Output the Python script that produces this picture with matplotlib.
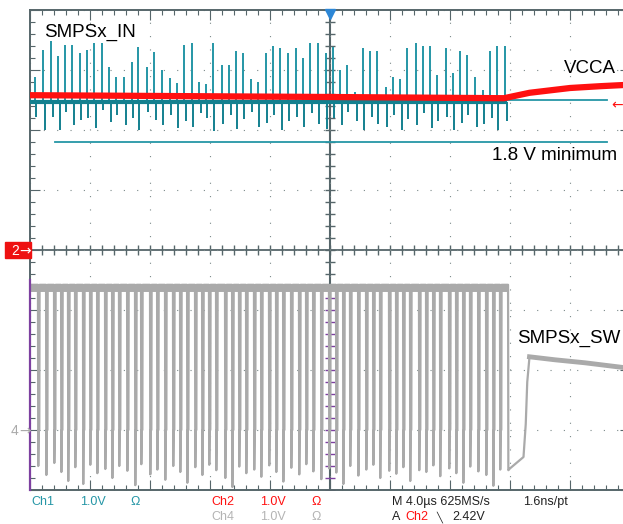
import numpy as np
import matplotlib
matplotlib.use('Agg')
import matplotlib.pyplot as plt
from matplotlib.patches import Rectangle

plt.rcParams['font.family'] = ['Liberation Sans', 'DejaVu Sans']

# screen: 10 div x 4 us, 8 div x 1 V ; ch1/ch2 ground at centre, ch4 ground 3 div below
time_per_div = 4.0
ch4_offset = -3.0

# switching events (us) seen as spikes on SMPSx_IN
spike_t = [-19.67, -19.13, -18.60, -18.13, -17.67, -17.20, -16.67, -16.20, -15.73, -15.20,
           -14.73, -14.27, -13.73, -13.20, -12.80, -12.20, -11.73, -11.20, -10.67, -10.20,
           -9.73, -9.20, -8.73, -8.27, -7.80, -7.20, -6.73, -6.27, -5.80, -5.27,
           -4.80, -4.27, -3.80, -3.33, -2.80, -2.27, -1.80, -1.33, -0.80, -0.27,
           0.20, 0.67, 1.13, 1.67, 2.20, 2.67, 3.13, 3.73, 4.20, 4.67,
           5.13, 5.73, 6.20, 6.67, 7.13, 7.73, 8.20, 8.67, 9.13, 9.67,
           10.20, 10.67, 11.13, 11.67]
spike_hi = [2.88, 3.33, 3.48, 3.23, 3.42, 3.42, 3.28, 3.33, 3.45, 3.45,
            3.05, 2.88, 2.88, 3.13, 3.38, 3.05, 3.30, 3.00, 2.87, 2.78,
            3.42, 3.45, 2.80, 2.77, 3.45, 3.08, 3.08, 3.32, 3.28, 2.85,
            2.80, 3.28, 3.40, 3.37, 3.28, 3.37, 3.20, 3.45, 3.45, 3.28,
            3.38, 3.00, 3.08, 2.63, 3.37, 3.32, 3.32, 2.72, 2.88, 2.85,
            3.37, 3.45, 3.40, 3.40, 2.92, 3.37, 2.95, 3.32, 3.25, 2.88,
            2.67, 3.32, 3.40, 3.40]
spike_lo = [2.22, 2.00, 2.22, 2.00, 2.30, 2.08, 2.17, 2.20, 2.03, 2.33,
            2.13, 2.25, 2.08, 2.20, 2.00, 2.30, 2.17, 2.08, 2.25, 2.03,
            2.15, 2.05, 2.28, 2.20, 1.98, 2.10, 2.25, 2.02, 2.18, 2.30,
            2.05, 2.12, 2.25, 2.00, 2.15, 2.22, 2.05, 2.28, 2.10, 2.02,
            2.20, 2.08, 2.30, 2.15, 2.00, 2.22, 2.10, 2.05, 2.25, 2.00,
            2.18, 2.08, 2.28, 2.03, 2.15, 2.22, 2.00, 2.12, 2.25, 2.05,
            2.10, 2.20, 2.00, 2.15]
ch1_base = 2.47
ch1_settled = 2.50
ch1_end = 18.47
ch1_min = 1.8
ch1_min_start = -18.33

# VCCA (ch2)
ch2_t = [-20.0, 0.0, 11.6, 13.3, 16.0, 18.0, 19.6]
ch2_v = [2.58, 2.55, 2.53, 2.62, 2.70, 2.73, 2.75]

# SMPSx_SW (ch4)
sw_high = 2.42
sw_low = 0.0
sw_delay = 0.20
sw_pulse = 0.09
sw_undershoot = [-0.60, -0.75, -0.55, -0.70, -0.85, -0.62, -0.90, -0.58, -0.72, -0.65,
                 -0.80, -0.60, -0.68, -0.92, -0.57, -0.74, -0.66, -0.83, -0.60, -0.70,
                 -0.88, -0.62, -0.75, -0.58, -0.67, -0.80, -0.95, -0.61, -0.72, -0.66,
                 -0.78, -0.59, -0.70, -0.86, -0.63, -0.74, -0.57, -0.69, -0.82, -0.64,
                 -0.71, -0.90, -0.60, -0.76, -0.66, -0.58, -0.80, -0.68, -0.73, -0.62,
                 -0.85, -0.67, -0.70, -0.59, -0.77, -0.64, -0.72, -0.88, -0.61, -0.69,
                 -0.75, -0.93, -0.66]
sw_tail_t = [12.0, 12.9, 13.05, 13.15, 13.3, 15.0, 17.0, 19.6]
sw_tail_v = [-0.64, -0.45, 0.10, 0.80, 1.22, 1.17, 1.12, 1.04]

teal = '#2596a6'
teal_dark = '#13808f'
red = '#ff1010'
grey = '#aaaaaa'
frame = '#56666a'
purple = '#7d40a0'

fig = plt.figure(figsize=(6.23, 5.24), dpi=100)
ax = fig.add_axes([30 / 623, 34 / 524, 600 / 623, 480 / 524])
ax.set_xlim(-5 * time_per_div, 5 * time_per_div)
ax.set_ylim(-4, 4)

ax.set_xticks(np.arange(-20, 20.1, 4))
ax.set_xticks(np.arange(-20, 20.1, 0.8), minor=True)
ax.set_yticks(np.arange(-4, 4.1, 1))
ax.set_yticks(np.arange(-4, 4.1, 0.2), minor=True)
ax.tick_params(which='both', direction='in', top=True, right=True,
               labelbottom=False, labelleft=False, color=frame, width=0.8)
ax.tick_params(which='major', length=7)
ax.tick_params(which='minor', length=3.6)
for s in ax.spines.values():
    s.set_color(frame)
    s.set_linewidth(1.4)
ax.grid(which='major', color='#7c8a8a', linestyle=(0, (1, 11)), lw=0.8)

# centre crosshair
ax.axhline(0, color=frame, lw=1.3, zorder=1)
ax.axvline(0, color=frame, lw=1.5, zorder=1)
mx = np.arange(-20, 20.1, 0.8)
my = np.arange(-4, 4.1, 0.2)
ax.plot(mx, np.zeros_like(mx), ls='none', marker='|', ms=7.5, mew=1, color=frame, zorder=1)
ax.plot(np.zeros_like(my[my > -0.5]), my[my > -0.5], ls='none', marker='_', ms=7.5, mew=1, color=frame, zorder=1)
ax.plot(np.zeros_like(my[my <= -0.5]), my[my <= -0.5], ls='none', marker='_', ms=7.5, mew=1, color=purple, zorder=1)
ax.plot([-20, -20], [-0.5, -4], color=purple, lw=1.6, clip_on=False, zorder=3)

# ch4 switch node
sw_t = [-20.0]
sw_v = [sw_high]
for t, u in zip(spike_t[:-1], sw_undershoot):
    t0 = t + sw_delay
    sw_t += [t0, t0 + 0.02, t0 + 0.05, t0 + sw_pulse, t0 + sw_pulse + 0.02]
    sw_v += [sw_high, u, sw_low, sw_low, sw_high]
t_last = spike_t[-1] + sw_delay
sw_t += [t_last, t_last + 0.02] + sw_tail_t
sw_v += [sw_high, -0.67] + sw_tail_v
ax.plot(sw_t, np.array(sw_v) + ch4_offset, color=grey, lw=1.6, zorder=2)
ax.plot([-20, t_last], [sw_high + ch4_offset - 0.05] * 2, color=grey, lw=5, zorder=2,
        solid_capstyle='butt')
ax.plot(sw_tail_t[4:], np.array(sw_tail_v[4:]) + ch4_offset, color=grey, lw=3.5, zorder=2)

# ch1 input
st = np.array(spike_t)
ax.vlines(st, ch1_base, spike_hi, color=teal, lw=1.4, zorder=3)
ax.vlines(st + 0.1, spike_lo, ch1_base, color=teal_dark, lw=1.4, zorder=3)
ax.plot([-20, spike_t[-1]], [ch1_base, ch1_base], color=teal_dark, lw=3, zorder=3)
ax.plot([spike_t[-1], ch1_end], [ch1_settled, ch1_settled], color=teal, lw=1.3, zorder=3)
ax.plot([ch1_min_start, ch1_end], [ch1_min, ch1_min], color=teal, lw=1.3, zorder=3)

# ch2 VCCA
ax.plot(ch2_t, ch2_v, color=red, lw=4.5, zorder=4, solid_capstyle='butt')

# trigger position marker
ax.plot(0, 3.94, marker='v', ms=7, color='#2c86d6', clip_on=False, zorder=6)

ax.text(-19.07, 3.63, 'SMPSx_IN', fontsize=13.5, va='center', ha='left', zorder=6)
ax.text(19.07, 3.03, 'VCCA', fontsize=13.5, va='center', ha='right', zorder=6)
ax.text(19.13, 1.57, '1.8 V minimum', fontsize=13.5, va='center', ha='right', zorder=6)
ax.text(12.47, -1.47, 'SMPSx_SW', fontsize=13.5, va='center', ha='left', zorder=6)

# channel markers
def fx(px):
    return px / 623

def fy(py):
    return 1 - py / 524

fig.add_artist(Rectangle((fx(5), fy(258)), 26 / 623, 16 / 524, transform=fig.transFigure,
                         color='#ee1111', zorder=5))
fig.text(fx(11), fy(251), '2', color='white', fontsize=10, va='center', ha='left', zorder=7)
fig.text(fx(19), fy(251), '\u2192', color='white', fontsize=10, va='center', ha='left',
         family='DejaVu Sans', zorder=7)
fig.text(fx(11), fy(431), '4', color=grey, fontsize=10, va='center', ha='left', zorder=7)
fig.text(fx(19), fy(431), '\u2192', color=grey, fontsize=10, va='center', ha='left',
         family='DejaVu Sans', zorder=7)
fig.text(fx(611), fy(105), '\u2190', color=red, fontsize=10, va='center', ha='left',
         family='DejaVu Sans', zorder=7)

# status line
r1, r2 = fy(502), fy(517)
fs = 9
fig.text(fx(31), r1, 'Ch1', color=teal, fontsize=fs, va='center')
fig.text(fx(80), r1, '1.0V', color=teal, fontsize=fs, va='center')
fig.text(fx(130), r1, '\u03a9', color=teal, fontsize=fs, va='center')
fig.text(fx(211), r1, 'Ch2', color=red, fontsize=fs, va='center')
fig.text(fx(260), r1, '1.0V', color=red, fontsize=fs, va='center')
fig.text(fx(311), r1, '\u03a9', color=red, fontsize=fs, va='center')
fig.text(fx(211), r2, 'Ch4', color='#b4b4b4', fontsize=fs, va='center')
fig.text(fx(260), r2, '1.0V', color='#b4b4b4', fontsize=fs, va='center')
fig.text(fx(311), r2, '\u03a9', color='#b4b4b4', fontsize=fs, va='center')
fig.text(fx(392), r1, 'M 4.0\u00b5s 625MS/s', color='#222222', fontsize=fs, va='center')
fig.text(fx(523), r1, '1.6ns/pt', color='#222222', fontsize=fs, va='center')
fig.text(fx(392), r2, 'A', color='#222222', fontsize=fs, va='center')
fig.text(fx(405), r2, 'Ch2', color=red, fontsize=fs, va='center')
fig.text(fx(436), r2, '\u2572', color='#222222', fontsize=7, va='center')
fig.text(fx(452), r2, '2.42V', color='#222222', fontsize=fs, va='center')

fig.savefig('out.png', dpi=100, facecolor='white')
